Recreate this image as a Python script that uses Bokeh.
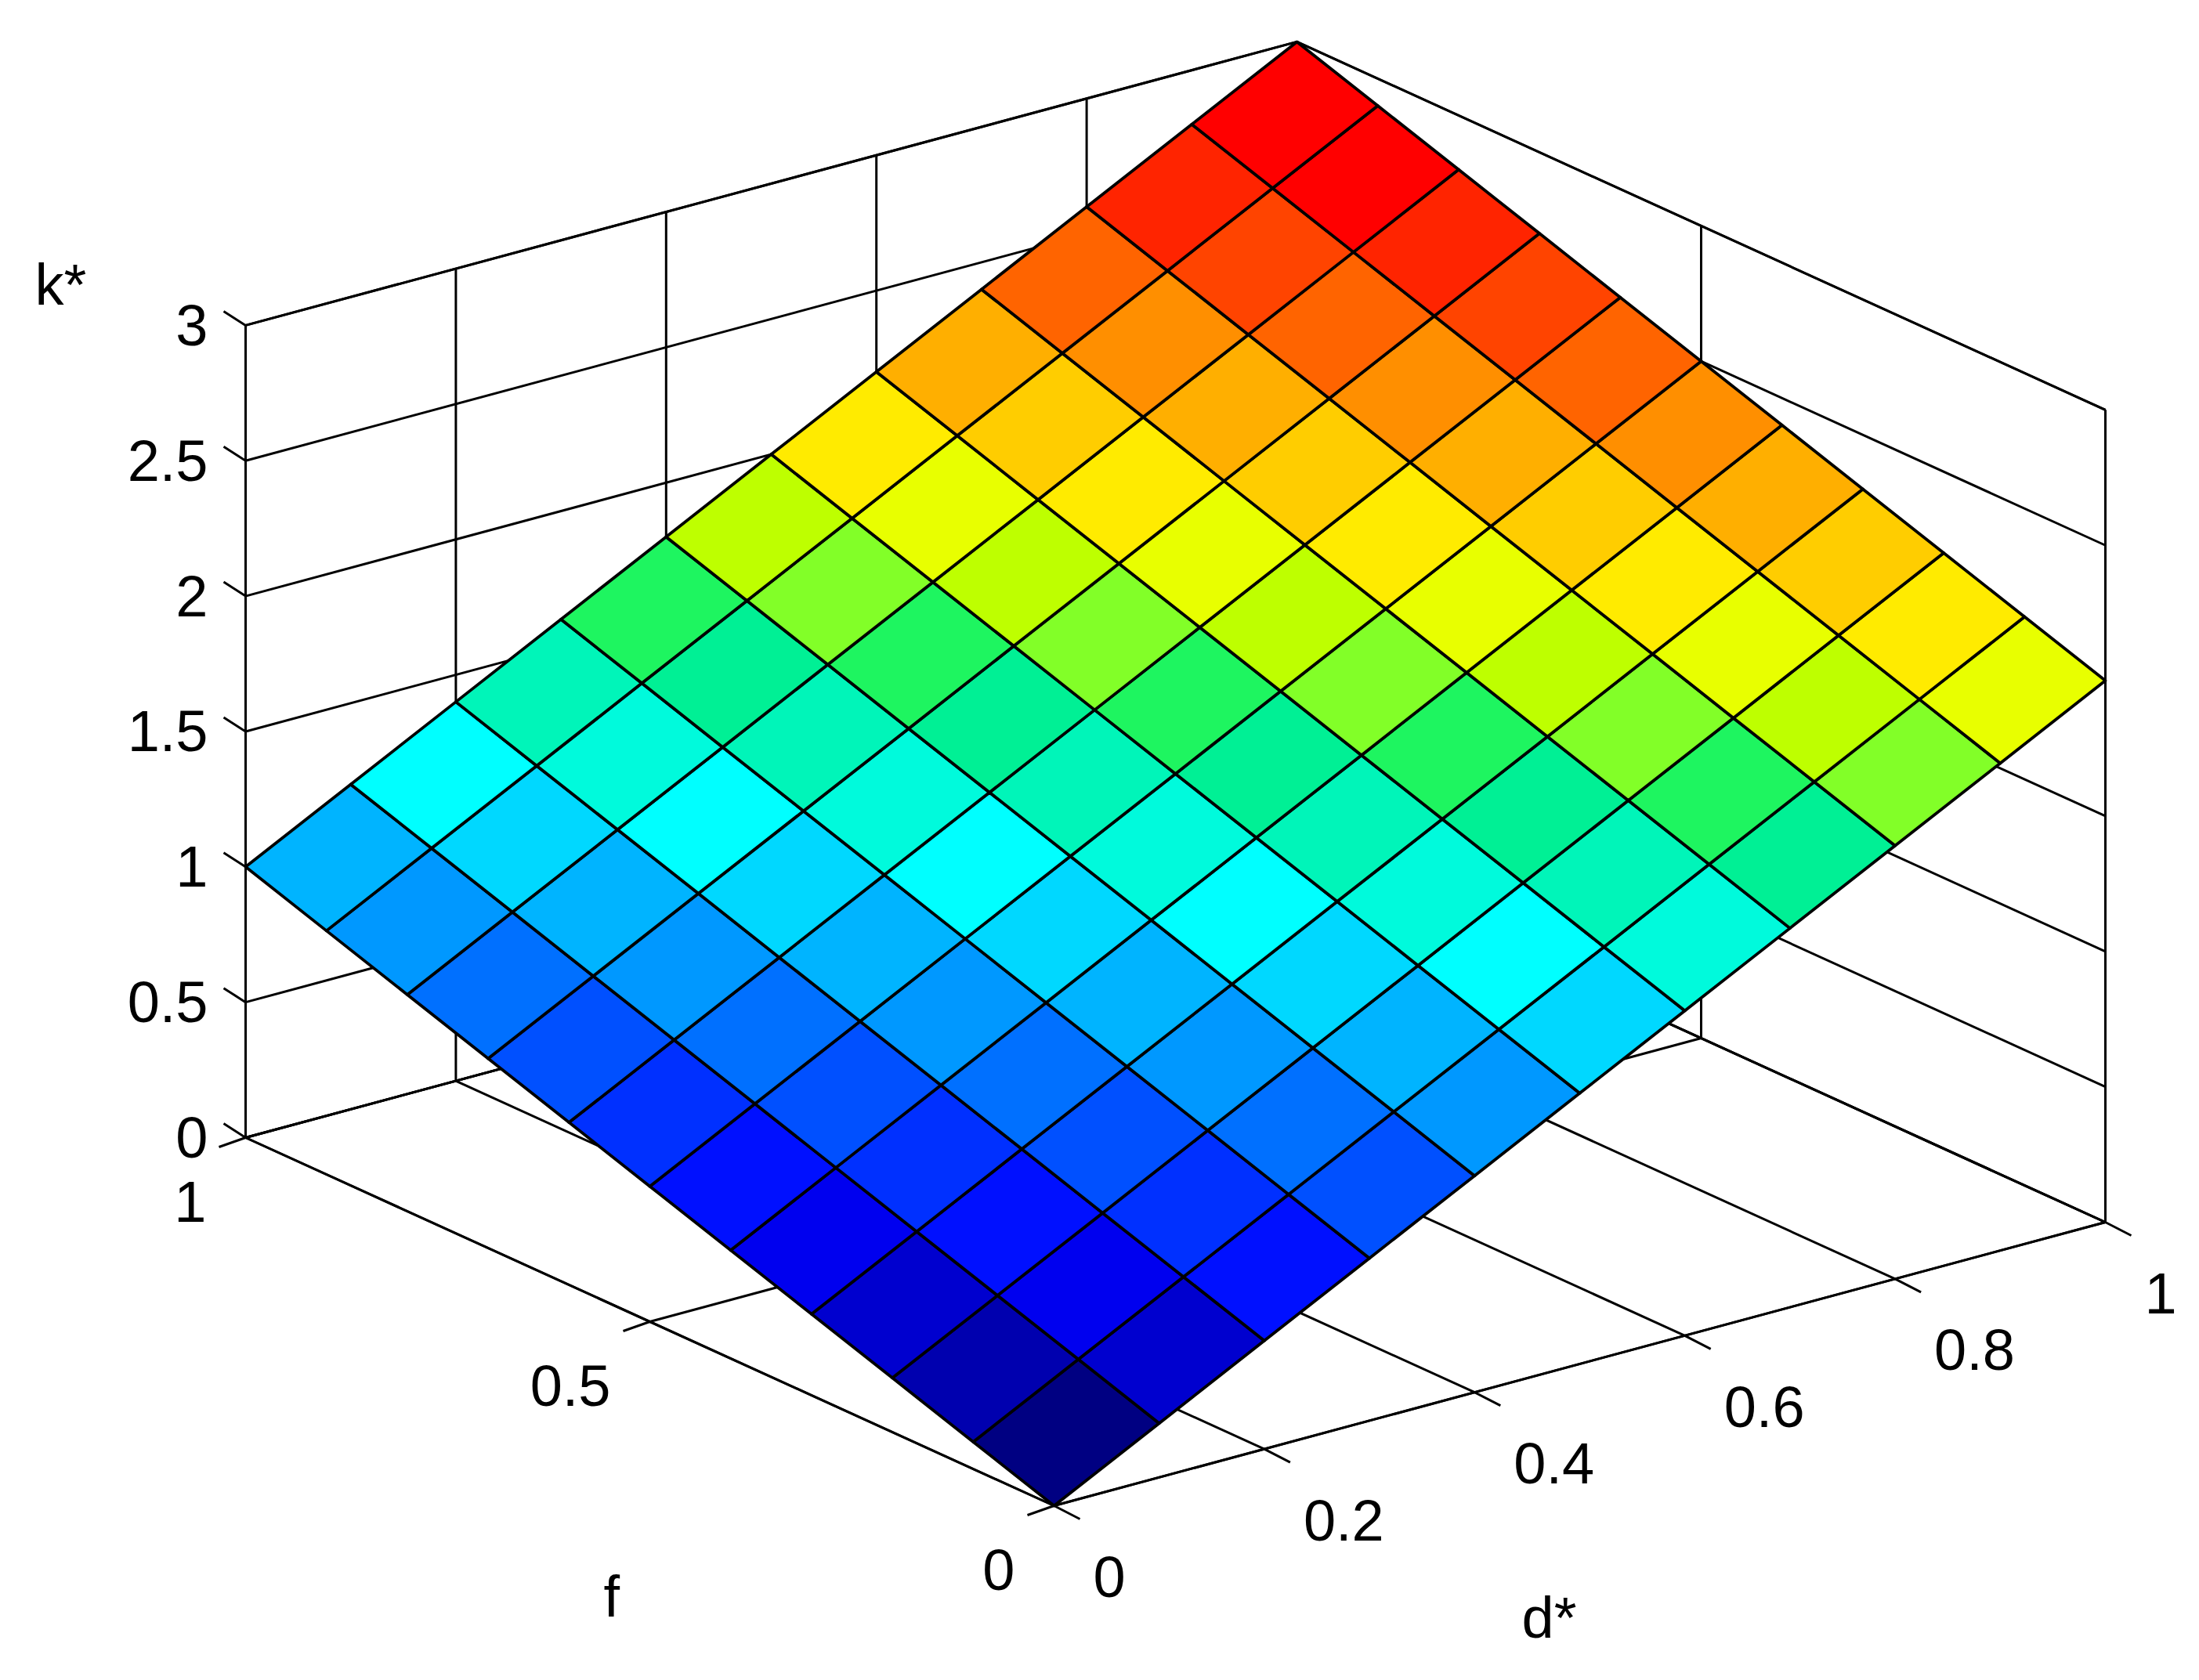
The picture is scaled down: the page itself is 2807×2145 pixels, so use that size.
from bokeh.plotting import figure
from bokeh.embed import file_html
from bokeh.resources import INLINE
from bokeh.core.properties import value

# ---- data ----
d_values = [0.0, 0.1, 0.2, 0.3, 0.4, 0.5, 0.6, 0.7, 0.8, 0.9, 1.0]
f_values = [0.0, 0.1, 0.2, 0.3, 0.4, 0.5, 0.6, 0.7, 0.8, 0.9, 1.0]
# k_star[i][j] : i indexes d*, j indexes f
k_star = [
    [0.0, 0.1, 0.2, 0.3, 0.4, 0.5, 0.6, 0.7, 0.8, 0.9, 1.0],
    [0.2, 0.3, 0.4, 0.5, 0.6, 0.7, 0.8, 0.9, 1.0, 1.1, 1.2],
    [0.4, 0.5, 0.6, 0.7, 0.8, 0.9, 1.0, 1.1, 1.2, 1.3, 1.4],
    [0.6, 0.7, 0.8, 0.9, 1.0, 1.1, 1.2, 1.3, 1.4, 1.5, 1.6],
    [0.8, 0.9, 1.0, 1.1, 1.2, 1.3, 1.4, 1.5, 1.6, 1.7, 1.8],
    [1.0, 1.1, 1.2, 1.3, 1.4, 1.5, 1.6, 1.7, 1.8, 1.9, 2.0],
    [1.2, 1.3, 1.4, 1.5, 1.6, 1.7, 1.8, 1.9, 2.0, 2.1, 2.2],
    [1.4, 1.5, 1.6, 1.7, 1.8, 1.9, 2.0, 2.1, 2.2, 2.3, 2.4],
    [1.6, 1.7, 1.8, 1.9, 2.0, 2.1, 2.2, 2.3, 2.4, 2.5, 2.6],
    [1.8, 1.9, 2.0, 2.1, 2.2, 2.3, 2.4, 2.5, 2.6, 2.7, 2.8],
    [2.0, 2.1, 2.2, 2.3, 2.4, 2.5, 2.6, 2.7, 2.8, 2.9, 3.0],
]
d_ticks = [0, 0.2, 0.4, 0.6, 0.8, 1]
d_tick_labels = ["0", "0.2", "0.4", "0.6", "0.8", "1"]
f_ticks = [0, 0.5, 1]
f_tick_labels = ["0", "0.5", "1"]
k_ticks = [0, 0.5, 1, 1.5, 2, 2.5, 3]
k_tick_labels = ["0", "0.5", "1", "1.5", "2", "2.5", "3"]
k_max = 3.0

# colour of a facet, by its k* value in steps of 0.1 (0.0 ... 2.7), as seen in the picture
level_colors = [
    "#000082", "#0000af", "#0000cf", "#0000ef", "#0010ff", "#0030ff", "#0050ff",
    "#0070ff", "#0098ff", "#00b4ff", "#00d8ff", "#00ffff", "#00fadc", "#00f5b9",
    "#00f095", "#1ef560", "#82ff28", "#beff00", "#e8ff00", "#ffeb00", "#ffcd00",
    "#ffaf00", "#ff8f00", "#ff6400", "#ff4400", "#ff2400", "#ff0000", "#ff0000",
]

# ---- orthographic view of the axes box ----
ORIGIN = (1345.0, 1922.0)
D_VEC = (1342.0, -362.0)
F_VEC = (-1032.0, -470.0)
K_VEC = (0.0, -345.7)

def proj(d, f, k=0.0):
    return (ORIGIN[0] + d * D_VEC[0] + f * F_VEC[0] + k * K_VEC[0],
            ORIGIN[1] + d * D_VEC[1] + f * F_VEC[1] + k * K_VEC[1])

W, H = 2807, 2145
p = figure(width=W, height=H, output_backend="svg", toolbar_location=None,
           x_range=(0, W), y_range=(H, 0), min_border=0,
           background_fill_color="white", border_fill_color="white",
           outline_line_color=None)
p.xaxis.visible = False
p.yaxis.visible = False
p.grid.visible = False

AX_W = 3.0
def seg(a, b, lw=AX_W):
    p.line([a[0], b[0]], [a[1], b[1]], line_color="black", line_width=lw)

# back walls and floor
seg(proj(0, 0), proj(1, 0))
seg(proj(0, 0), proj(0, 1))
seg(proj(0, 1), proj(1, 1))
seg(proj(1, 0), proj(1, 1))
seg(proj(0, 1, k_max), proj(1, 1, k_max))
seg(proj(1, 0, k_max), proj(1, 1, k_max))
seg(proj(0, 1), proj(0, 1, k_max))
seg(proj(1, 0), proj(1, 0, k_max))
seg(proj(1, 1), proj(1, 1, k_max))

D_TICK = (33.0, 17.0)
F_TICK = (-34.0, 12.0)
K_TICK = (-28.0, -18.0)
FONT = value("Liberation Sans")
FS = "74px"
BASE_SHIFT = -29

def label(x, y, t, align):
    p.text([x], [y + BASE_SHIFT], text=[t], text_font=FONT, text_font_size=FS, text_color="black",
           text_align=align, text_baseline="alphabetic")

for t, lab in zip(d_ticks, d_tick_labels):
    seg(proj(t, 0), proj(t, 1))
    seg(proj(t, 1), proj(t, 1, k_max))
    a = proj(t, 0)
    seg(a, (a[0] + D_TICK[0], a[1] + D_TICK[1]))
    label(a[0] + 50, a[1] + 120, lab, "left")

for t, lab in zip(f_ticks, f_tick_labels):
    seg(proj(0, t), proj(1, t))
    seg(proj(1, t), proj(1, t, k_max))
    a = proj(0, t)
    seg(a, (a[0] + F_TICK[0], a[1] + F_TICK[1]))
    label(a[0] - 50, a[1] + 111, lab, "right")

for t, lab in zip(k_ticks, k_tick_labels):
    seg(proj(0, 1, t), proj(1, 1, t))
    seg(proj(1, 1, t), proj(1, 0, t))
    a = proj(0, 1, t)
    seg(a, (a[0] + K_TICK[0], a[1] + K_TICK[1]))
    label(265, a[1] + 29, lab, "right")

# surface
xs, ys, cols = [], [], []
for i in range(len(d_values) - 1):
    for j in range(len(f_values) - 1):
        corners = [(i, j), (i + 1, j), (i + 1, j + 1), (i, j + 1)]
        pts = [proj(d_values[a], f_values[b], k_star[a][b]) for a, b in corners]
        xs.append([q[0] for q in pts])
        ys.append([q[1] for q in pts])
        cols.append(level_colors[round(k_star[i][j] * 10)])
p.patches(xs, ys, fill_color=cols, line_color="black", line_width=3.8, line_join="round")

# axis titles
label(44, 392, "k*", "left")
label(770, 2067, "f", "left")
label(1942, 2094, "d*", "left")

open("out.html", "w").write(file_html(p, INLINE))
